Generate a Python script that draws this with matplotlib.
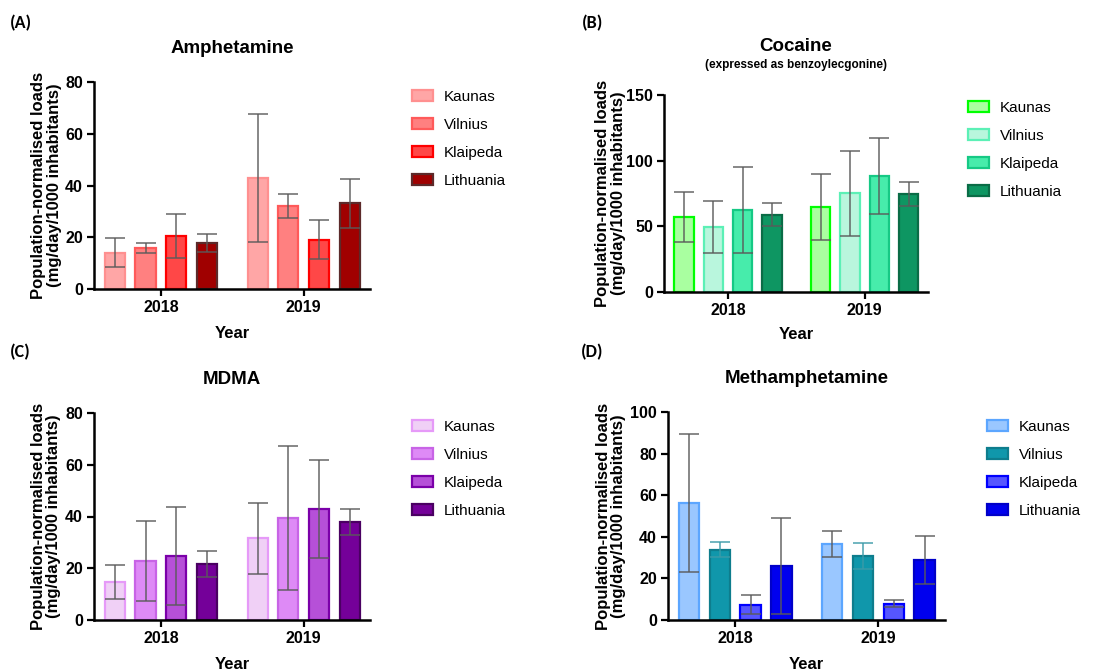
import numpy as np
import matplotlib.pyplot as plt

plt.rcParams['font.family'] = ['Liberation Sans', 'DejaVu Sans']

## Datos
anios = ['2018', '2019']
ciudades = ['Kaunas', 'Vilnius', 'Klaipeda', 'Lithuania']

# media por año (fila 2018, fila 2019) y desviacion de cada ciudad
amph_media = [[14.1, 15.8, 20.4, 17.8], [42.8, 32.0, 19.1, 33.1]]
amph_sd = [[5.6, 1.8, 8.5, 3.5], [24.7, 4.6, 7.4, 9.5]]

coca_media = [[57.0, 49.4, 62.3, 58.8], [64.9, 75.2, 88.4, 74.5]]
coca_sd = [[19.0, 20.0, 32.5, 8.7], [25.0, 32.5, 29.0, 9.3]]

mdma_media = [[14.7, 22.8, 24.7, 21.5], [31.6, 39.4, 42.9, 37.8]]
mdma_sd = [[6.7, 15.4, 19.0, 5.0], [13.8, 27.7, 19.0, 5.0]]

meth_media = [[56.1, 33.8, 7.4, 25.9], [36.5, 30.9, 7.9, 28.9]]
meth_sd = [[33.2, 3.6, 4.6, 23.0], [6.2, 6.3, 1.6, 11.7]]

# colores: relleno y borde de cada ciudad
amph_fill = ['#ffa6a6', '#ff8080', '#ff4747', '#a00000']
amph_edge = ['#ff9090', '#ff5a5a', '#ff0000', '#5c2a2a']
coca_fill = ['#a9ffa0', '#b9f6dd', '#47ecab', '#0e9662']
coca_edge = ['#00ff00', '#5cf0b6', '#16c985', '#0a6c46']
mdma_fill = ['#f0d0f6', '#de8af6', '#b650d8', '#740099']
mdma_edge = ['#e69af8', '#c864e6', '#7b00a9', '#4a0062']
meth_fill = ['#9ac7ff', '#1097ab', '#5656ff', '#0000ee']
meth_edge = ['#5ca6ff', '#0e7d8d', '#0000ff', '#0000c8']
meth_err = ['#5a5a5a', '#3b9aa8', '#5a5a5a', '#5a5a5a']


def panel(rect, medias, sds, fills, edges, ymax, ypaso, titulo, letra, letra_xy,
          leg_xy, ylab_x, subtitulo=None, errcols=None, titulo_y=1.16):
    ax = fig.add_axes(rect)
    sep = 4.65  # distancia entre grupos de años
    for i in range(len(anios)):
        for j in range(len(ciudades)):
            x = i * sep + j
            ax.bar(x, medias[i][j], width=0.66, color=fills[j], edgecolor=edges[j],
                   linewidth=1.6, label=ciudades[j] if i == 0 else None, zorder=2)
            ec = '#5a5a5a' if errcols is None else errcols[j]
            ax.errorbar(x, medias[i][j], yerr=sds[i][j], fmt='none', ecolor=ec,
                        elinewidth=1.2, capsize=7, capthick=1.2, zorder=3, alpha=0.85)
    ax.set_xlim(-0.68, sep + 3 + 0.66)
    ax.set_ylim(0, ymax)
    ax.set_yticks(np.arange(0, ymax + 1, ypaso))
    ax.set_xticks([1.5, sep + 1.5])
    ax.set_xticklabels(anios)
    for s in ['top', 'right']:
        ax.spines[s].set_visible(False)
    for s in ['left', 'bottom']:
        ax.spines[s].set_linewidth(1.8)
    ax.tick_params(width=1.6, length=5, labelsize=11.5, pad=3)
    for t in ax.get_xticklabels() + ax.get_yticklabels():
        t.set_fontweight('bold')
    ax.text(ylab_x, 0.5, 'Population-normalised loads\n(mg/day/1000 inhabitants)',
            transform=ax.transAxes, rotation=90, ha='center', va='center',
            fontsize=12, fontweight='bold', multialignment='center', linespacing=1.05)
    ax.text(0.5, -0.215, 'Year', transform=ax.transAxes, ha='center', va='center',
            fontsize=12, fontweight='bold')
    if subtitulo is None:
        ax.text(0.5, titulo_y, titulo, transform=ax.transAxes, ha='center', va='center',
                fontsize=13.5, fontweight='bold')
    else:
        ax.text(0.5, 1.244, titulo, transform=ax.transAxes, ha='center', va='center',
                fontsize=13.5, fontweight='bold')
        ax.text(0.5, 1.152, subtitulo, transform=ax.transAxes, ha='center', va='center',
                fontsize=8.5, fontweight='bold')
    fig.text(letra_xy[0], letra_xy[1], letra, ha='left', va='center', fontsize=13,
             fontweight='bold', family=['Carlito', 'Liberation Sans', 'DejaVu Sans'])
    ax.legend(loc='upper left', bbox_to_anchor=leg_xy, bbox_transform=fig.transFigure,
              frameon=False, fontsize=11, handlelength=1.35, handleheight=0.75,
              handletextpad=0.75, labelspacing=0.92, borderpad=0, borderaxespad=0)
    return ax


fig = plt.figure(figsize=(11.1, 6.72), dpi=100)

panel([94 / 1110, 1 - 289 / 672, 276 / 1110, 207 / 672], amph_media, amph_sd,
      amph_fill, amph_edge, 80, 20, 'Amphetamine', '(A)', (10 / 1110, 1 - 23 / 672),
      (412 / 1110, 1 - 90 / 672), -0.172)
panel([664 / 1110, 1 - 292 / 672, 264 / 1110, 197 / 672], coca_media, coca_sd,
      coca_fill, coca_edge, 150, 50, 'Cocaine', '(B)', (582 / 1110, 1 - 23 / 672),
      (968 / 1110, 1 - 101 / 672), -0.203, subtitulo='(expressed as benzoylecgonine)')
panel([94 / 1110, 1 - 620 / 672, 276 / 1110, 207 / 672], mdma_media, mdma_sd,
      mdma_fill, mdma_edge, 80, 20, 'MDMA', '(C)', (10 / 1110, 1 - 352 / 672),
      (412 / 1110, 1 - 420 / 672), -0.174, titulo_y=1.164)
panel([668 / 1110, 1 - 620 / 672, 277 / 1110, 208 / 672], meth_media, meth_sd,
      meth_fill, meth_edge, 100, 20, 'Methamphetamine', '(D)', (581 / 1110, 1 - 352 / 672),
      (987 / 1110, 1 - 420 / 672), -0.206, errcols=meth_err)

fig.savefig('out.png', dpi=100)
